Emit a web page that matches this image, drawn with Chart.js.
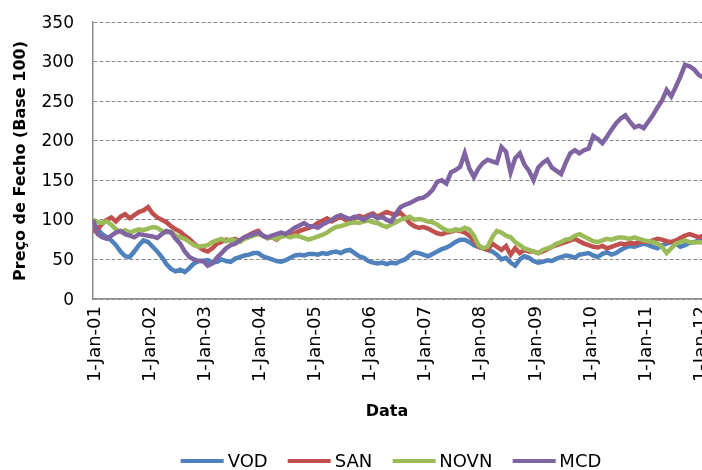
<!DOCTYPE html>
<html>
<head>
<meta charset="utf-8">
<script src="https://cdn.jsdelivr.net/npm/chart.js@4.4.1/dist/chart.umd.min.js"></script>
<style>
html,body{margin:0;padding:0;background:#fff;overflow:hidden;}
#wrap{width:778px;height:470px;position:relative;}
#ovl{position:absolute;left:0;top:0;width:778px;height:470px;pointer-events:none;font-family:"DejaVu Sans",sans-serif;color:#000;}
#ovl div{position:absolute;white-space:nowrap;line-height:1;}
.ytick{font-size:17px;text-align:right;width:74px;left:0;}
.xtick{font-size:18px;transform-origin:0 0;transform:rotate(-90deg) translate(-100%,-50%);}
.ytitle{font-size:16px;font-weight:bold;transform-origin:0 0;transform:rotate(-90deg) translate(-50%,-50%);}
.xtitle{font-size:16px;font-weight:bold;transform:translate(-50%,-50%);}
#legend{display:flex;align-items:center;transform:translate(-50%,-50%);font-size:18px;}
#legend span.item{display:flex;align-items:center;margin:0 10px;}
#legend span.sw{display:inline-block;width:43px;height:4px;margin-right:4px;}
</style>
</head>
<body>
<div id="wrap"><canvas id="c"></canvas><div id="ovl"></div></div>
<script>
// Monthly closing prices (Base 100), Jan 2001 .. Feb 2012
const seriesNames = ['VOD', 'SAN', 'NOVN', 'MCD'];
const yearTickLabels = ['1-Jan-01','1-Jan-02','1-Jan-03','1-Jan-04','1-Jan-05','1-Jan-06','1-Jan-07','1-Jan-08','1-Jan-09','1-Jan-10','1-Jan-11','1-Jan-12'];
const yTicks = [0, 50, 100, 150, 200, 250, 300, 350];
const yTitle = 'Preço de Fecho (Base 100)';
const xTitle = 'Data';

const VOD = [
  97, 88, 82, 78, 74, 68, 60, 54, 53, 60, 68, 74,
  72, 66, 60, 53, 44, 38, 35, 37, 34, 39, 45, 48,
  48, 49, 46, 47, 50, 48, 47, 51, 53, 55, 56, 58,
  58, 54, 52, 50, 48, 47, 49, 52, 55, 56, 55, 57,
  57, 56, 58, 57, 59, 60, 58, 61, 62, 58, 54, 52,
  48, 46, 45, 46, 44, 46, 45, 48, 50, 55, 59, 58,
  56, 54, 57, 60, 63, 65, 68, 72, 75, 75, 72, 68,
  66, 64, 62, 60, 56, 50, 52, 46, 42, 50, 54, 52,
  48, 46, 47, 49, 48, 51, 53, 55, 54, 52, 56, 57,
  58, 55, 53, 57, 59, 56, 58, 62, 65, 67, 66, 68,
  70, 68, 66, 64, 68, 70, 72, 70, 66, 68, 71, 72,
  74, 75
];
const SAN = [
  85, 88, 95, 100, 103, 98, 104, 107, 102, 106, 110, 112,
  116, 108, 103, 100, 97, 92, 88, 85, 80, 76, 70, 66,
  62, 60, 64, 70, 72, 75, 74, 76, 73, 78, 81, 84,
  86, 80, 77, 78, 75, 79, 82, 80, 83, 86, 88, 90,
  92, 96, 99, 102, 98, 101, 104, 100, 98, 102, 105, 103,
  106, 108, 104, 107, 110, 108, 106, 109, 103, 96, 92, 90,
  91, 89, 86, 83, 82, 84, 85, 87, 86, 84, 80, 74,
  66, 64, 62, 70, 66, 62, 67, 56, 64, 58, 62, 60,
  60, 58, 60, 63, 66, 68, 70, 72, 74, 76, 73, 70,
  68, 66, 65, 67, 64, 66, 68, 70, 69, 71, 70, 72,
  73, 72, 74, 76, 75, 73, 72, 74, 77, 80, 82, 80,
  78, 80
];
const NOVN = [
  100, 97, 96, 98, 94, 88, 85, 87, 84, 86, 88, 87,
  89, 91, 90, 86, 84, 85, 80, 78, 76, 72, 68, 66,
  67, 68, 72, 74, 76, 73, 75, 74, 72, 76, 78, 80,
  82, 80, 77, 78, 76, 79, 80, 78, 80, 79, 77, 75,
  77, 79, 81, 84, 88, 91, 92, 94, 96, 97, 96, 98,
  99, 97, 96, 93, 91, 94, 97, 100, 102, 104, 100, 101,
  100, 98, 97, 94, 90, 87, 86, 88, 87, 90, 88, 80,
  68, 64, 66, 78, 86, 84, 80, 78, 72, 68, 64, 62,
  60, 58, 62, 64, 66, 70, 72, 75, 76, 80, 82, 79,
  76, 73, 72, 74, 76, 75, 77, 78, 77, 76, 78, 76,
  74, 73, 72, 70, 66, 58, 64, 70, 72, 74, 72, 71,
  72, 71
];
const MCD = [
  100, 82, 78, 76, 80, 84, 86, 82, 80, 78, 82, 81,
  80, 79, 77, 82, 86, 84, 76, 70, 60, 53, 50, 48,
  48, 42, 45, 52, 58, 64, 68, 70, 74, 78, 80, 82,
  84, 80, 78, 80, 82, 84, 82, 86, 90, 93, 96, 92,
  92, 90, 94, 97, 100, 104, 106, 103, 101, 104, 103, 100,
  104, 106, 102, 104, 100, 98, 108, 116, 119, 121, 124, 127,
  128, 132, 138, 148, 150, 146, 160, 163, 167, 184, 165, 154,
  165, 172, 176, 174, 172, 192, 186, 160, 178, 184, 170, 162,
  150, 166, 172, 176, 166, 162, 158, 172, 184, 188, 184, 188,
  190, 206, 202, 197, 205, 214, 222, 228, 232, 224, 217, 219,
  216, 224, 232, 242, 251, 264, 256, 268, 281, 296, 294, 290,
  283, 280
];

const seriesValues = [VOD, SAN, NOVN, MCD];
const seriesColors = ['#4F81BD', '#C0504D', '#9BBB59', '#8064A2'];
const drawOrder = [4, 3, 2, 1]; // MCD drawn on top

const datasets = seriesNames.map((name, k) => ({
  label: name,
  data: seriesValues[k].map((v, i) => ({ x: i, y: v })),
  borderColor: seriesColors[k],
  backgroundColor: seriesColors[k],
  borderWidth: 4.5,
  pointRadius: 0,
  tension: 0,
  order: drawOrder[k]
}));

const chart = new Chart(document.getElementById('c'), {
  type: 'line',
  data: { datasets },
  options: {
    responsive: true,
    maintainAspectRatio: false,
    animation: false,
    layout: { padding: { top: 22, right: 15, bottom: 0, left: 0 } },
    scales: {
      x: {
        type: 'linear',
        min: 0,
        max: 146,
        afterFit: (s) => { s.height = 171; },
        ticks: { display: false },
        grid: { display: false, drawTicks: false },
        border: { display: true, color: '#8c8c8c', width: 1.5 }
      },
      y: {
        min: 0,
        max: 350,
        afterBuildTicks: (s) => { s.ticks = yTicks.map(v => ({ value: v })); },
        afterFit: (s) => { s.width = 93; },
        ticks: { display: false },
        grid: { color: '#8c8c8c', lineWidth: 1, drawTicks: false },
        border: { display: true, color: '#8c8c8c', width: 1.5, dash: [4, 2] }
      }
    },
    plugins: {
      legend: { display: false },
      title: { display: false },
      tooltip: { enabled: false }
    }
  }
});

// Text (tick labels, titles, legend) as real text placed from the chart's scales
function buildText() {
  const ovl = document.getElementById('ovl');
  ovl.innerHTML = '';
  const ca = chart.chartArea, xs = chart.scales.x, ys = chart.scales.y;
  const add = (cls, text, left, top) => {
    const d = document.createElement('div');
    d.className = cls; d.textContent = text;
    if (left !== null) d.style.left = left + 'px';
    d.style.top = top + 'px';
    ovl.appendChild(d); return d;
  };
  yTicks.forEach(v => add('ytick', String(v), null, ys.getPixelForValue(v) - 8.5));
  yearTickLabels.forEach((t, i) => add('xtick', t, xs.getPixelForValue(i * 12) + 1, ca.bottom + 7));
  add('ytitle', yTitle, 20, (ca.top + ca.bottom) / 2);
  add('xtitle', xTitle, 387, 411);
  const lg = document.createElement('div');
  lg.id = 'legend'; lg.style.left = '391px'; lg.style.top = '461px';
  chart.data.datasets.forEach(d => {
    const it = document.createElement('span'); it.className = 'item';
    const sw = document.createElement('span'); sw.className = 'sw'; sw.style.background = d.borderColor;
    const tx = document.createElement('span'); tx.textContent = d.label;
    it.appendChild(sw); it.appendChild(tx); lg.appendChild(it);
  });
  ovl.appendChild(lg);
}
buildText();
</script>
</body>
</html>
